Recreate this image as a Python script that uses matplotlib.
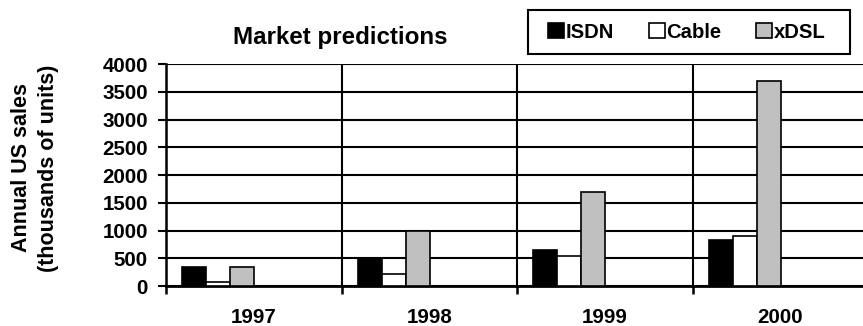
import matplotlib
matplotlib.use("Agg")
import matplotlib.pyplot as plt
from matplotlib.patches import Rectangle
import numpy as np

plt.rcParams['font.family'] = ['Liberation Sans', 'DejaVu Sans']
plt.rcParams['font.weight'] = 'bold'

years = ["1997", "1998", "1999", "2000"]
series_names = ["ISDN", "Cable", "xDSL"]
isdn = [350, 490, 650, 825]
cable = [75, 210, 540, 900]
xdsl = [345, 1000, 1700, 3700]
yticks = [0, 500, 1000, 1500, 2000, 2500, 3000, 3500, 4000]

colors = ["#000000", "#FFFFFF", "#C0C0C0"]

W, H = 863, 326
fig = plt.figure(figsize=(W / 100, H / 100), dpi=100)
ax = fig.add_axes([166 / W, (H - 286) / H, 702 / W, 222 / H])

x = np.arange(len(years))
bw = 24 / 175.5
start = -0.5 + 16 / 175.5 + bw / 2
for i, (vals, c, name) in enumerate(zip([isdn, cable, xdsl], colors, series_names)):
    ax.bar(x + start + i * bw, vals, width=bw, color=c,
           edgecolor="black", linewidth=1.2, label=name, zorder=3)

ax.set_xlim(-0.5, len(years) - 0.5)
ax.set_ylim(0, 4000)
ax.set_yticks(yticks)
ax.set_yticklabels([str(v) for v in yticks])
ax.yaxis.grid(True, color="black", linewidth=1.5, zorder=1)

# category boundaries as major ticks, labels at centers as minor ticks
ax.set_xticks(np.arange(-0.5, len(years) + 0.5, 1.0))
ax.set_xticklabels([])
ax.set_xticks(x, minor=True)
ax.set_xticklabels(years, minor=True)
ax.xaxis.grid(True, which="major", color="black", linewidth=1.5, zorder=1)
ax.tick_params(axis="x", which="major", length=6, width=1.8, direction="out")
ax.tick_params(axis="x", which="minor", length=0, pad=16, labelsize=14.8)
ax.tick_params(axis="y", length=6, width=1.5, direction="out", pad=7, labelsize=14.8)

for lab in ax.get_xticklabels(minor=True) + ax.get_yticklabels():
    lab.set_fontweight("bold")

for s in ["top", "right"]:
    ax.spines[s].set_visible(False)
ax.spines["left"].set_linewidth(1.8)
ax.spines["bottom"].set_linewidth(2.0)

fig.text(340 / W, (H - 44) / H, "Market predictions", ha="center", va="baseline",
         fontsize=17.4, fontweight="bold")

fig.text(35 / W, (H - 168) / H, "Annual US sales\n(thousands of units)", rotation=90,
         ha="center", va="center", fontsize=15.5, fontweight="bold", linespacing=1.35,
         multialignment="center")

# legend box frame
fig.patches.append(Rectangle((528 / W, (H - 54) / H), 322 / W, 44 / H,
                             transform=fig.transFigure, fill=False,
                             edgecolor="black", linewidth=1.5))
leg = fig.legend(loc="center left", bbox_to_anchor=(548 / W, (H - 32) / H),
                 ncol=3, frameon=False,
                 handlelength=0.78, handleheight=0.75, handletextpad=0.1,
                 columnspacing=1.7, borderpad=0.0, borderaxespad=0.0,
                 prop={"weight": "bold", "size": 14.6})
for p in leg.get_patches():
    p.set_linewidth(1.2)

fig.savefig("out.png", dpi=100)
